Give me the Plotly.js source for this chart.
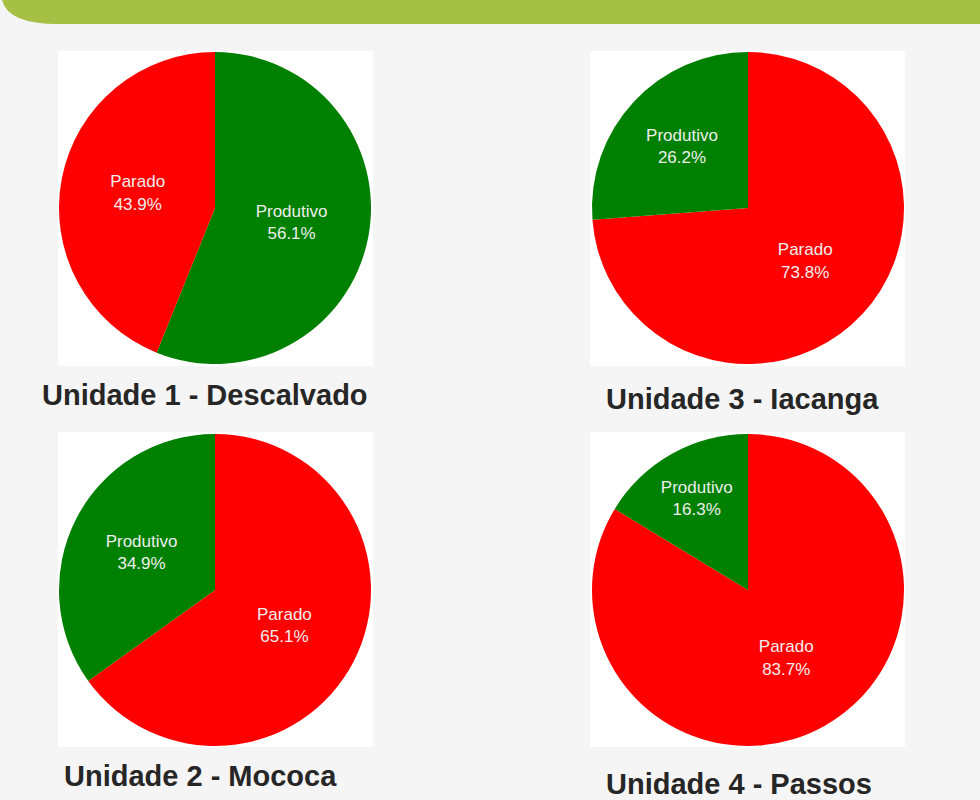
<!DOCTYPE html>
<html>
<head>
<meta charset="utf-8">
<script src="https://cdn.plot.ly/plotly-3.0.1.min.js"></script>
<style>
  html, body { margin: 0; padding: 0; background: #f5f5f5; }
  #plot { width: 980px; height: 800px; }
</style>
</head>
<body>
<div id="plot"></div>
<script>
// status of each unit, in percent
let statusLabels = ['Produtivo', 'Parado'];
let unitNames = ['Unidade 1 - Descalvado', 'Unidade 2 - Mococa', 'Unidade 3 - Iacanga', 'Unidade 4 - Passos'];
let produtivoShare = [56.1, 34.9, 26.2, 16.3];
let paradoShare = [43.9, 65.1, 73.8, 83.7];
let statusColors = ['#008000', '#ff0000'];

let W = 980;
let H = 800;

// pixel helpers -> paper fractions
function px(x) { return x / W; }
function py(y) { return 1 - y / H; }

// left/top pixel of each pie box, and title centres
let boxes = [
  {x: 58, y: 51, cx: 215, cy: 208, tx: 205, ty: 395},
  {x: 58, y: 432, cx: 215, cy: 590, tx: 200, ty: 776},
  {x: 590, y: 51, cx: 748, cy: 208, tx: 742, ty: 399},
  {x: 590, y: 432, cx: 748, cy: 590, tx: 739, ty: 784}
];
let boxSize = 315;
let pieRadius = 156;

let data = [];
let shapes = [];
let annotations = [];

// green band at the top
shapes.push({
  type: 'path',
  xref: 'paper', yref: 'paper',
  path: 'M ' + px(0) + ',' + py(0) + ' L ' + px(W) + ',' + py(0) + ' L ' + px(W) + ',' + py(24) +
        ' L ' + px(58) + ',' + py(24) + ' Q ' + px(8) + ',' + py(24) + ' ' + px(2) + ',' + py(0) + ' Z',
  fillcolor: '#a6bf45',
  line: {width: 0},
  layer: 'below'
});

for (let i = 0; i < unitNames.length; i++) {
  let b = boxes[i];

  shapes.push({
    type: 'rect',
    xref: 'paper', yref: 'paper',
    x0: px(b.x), x1: px(b.x + boxSize),
    y0: py(b.y + boxSize), y1: py(b.y),
    fillcolor: '#ffffff',
    line: {width: 0},
    layer: 'below'
  });

  data.push({
    type: 'pie',
    labels: statusLabels,
    values: [produtivoShare[i], paradoShare[i]],
    marker: {colors: statusColors, line: {width: 0}},
    sort: true,
    direction: 'clockwise',
    rotation: 0,
    texttemplate: '%{label}<br>%{percent:.1%}',
    textposition: 'inside',
    insidetextorientation: 'horizontal',
    insidetextfont: {family: 'Liberation Sans, Arial, sans-serif', size: 17, color: '#eeeeee'},
    hoverinfo: 'none',
    showlegend: false,
    domain: {
      x: [px(b.cx - pieRadius), px(b.cx + pieRadius)],
      y: [py(b.cy + pieRadius), py(b.cy - pieRadius)]
    }
  });

  annotations.push({
    text: unitNames[i],
    xref: 'paper', yref: 'paper',
    x: px(b.tx), y: py(b.ty),
    xanchor: 'center', yanchor: 'middle',
    showarrow: false,
    font: {family: 'Liberation Sans, Arial, sans-serif', size: 29, weight: 'bold', color: '#262626'}
  });
}

let layout = {
  width: W,
  height: H,
  margin: {l: 0, r: 0, t: 0, b: 0},
  paper_bgcolor: '#f5f5f5',
  plot_bgcolor: '#f5f5f5',
  showlegend: false,
  shapes: shapes,
  annotations: annotations
};

Plotly.newPlot('plot', data, layout, {staticPlot: true});
</script>
</body>
</html>
